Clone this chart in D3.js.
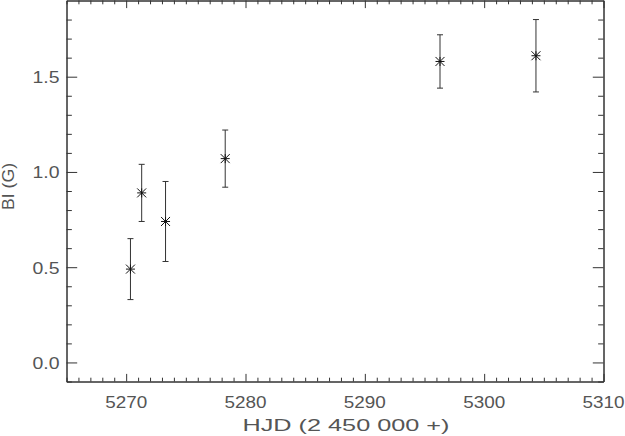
<!DOCTYPE html>
<html><head><meta charset="utf-8">
<script src="https://cdn.jsdelivr.net/npm/d3@7"></script>
<style>body{margin:0;background:#fff}svg{display:block}</style>
</head><body>
<script>
const hjd   = [5270.36, 5271.30, 5273.30, 5278.30, 5296.30, 5304.34];
const bl    = [0.49, 0.89, 0.74, 1.07, 1.58, 1.61];
const blErr = [0.16, 0.15, 0.21, 0.15, 0.14, 0.19];
const xTickLabels = ["5270", "5280", "5290", "5300", "5310"];
const yTickLabels = ["0.0", "0.5", "1.0", "1.5"];
const xTitle = "HJD (2 450 000 +)";
const yTitle = "BI (G)";

const W = 625, H = 436;
const svg = d3.select("body").append("svg").attr("width", W).attr("height", H);
const x = d3.scaleLinear().domain([5265, 5310]).range([66.5, 603.5]);
const y = d3.scaleLinear().domain([-0.1, 1.9]).range([381.5, 0.5]);

const ink = "#333";
const font = "Liberation Sans, Arial, sans-serif";
const xMajor = xTickLabels.map(Number);
const xMinor = d3.range(5265, 5311, 1).filter(v => !xMajor.includes(v));
const yMajor = yTickLabels.map(Number);
const yMinor = d3.range(-1, 19).map(i => i / 10).filter(v => !yMajor.some(m => Math.abs(m - v) < 1e-9));

function ax(gen, tx, ty) {
  const g = svg.append("g").attr("transform", `translate(${tx},${ty})`).call(gen);
  g.selectAll("text").remove();
  g.selectAll("line,path").attr("stroke", ink).attr("stroke-width", 1);
  return g;
}
const xl = 7.6, yl = 10.7;
ax(d3.axisBottom(x).tickValues(xMajor).tickSize(-xl).tickSizeOuter(0), 0, 381.5);
ax(d3.axisBottom(x).tickValues(xMinor).tickSize(-xl / 2).tickSizeOuter(0), 0, 381.5);
ax(d3.axisTop(x).tickValues(xMajor).tickSize(-xl).tickSizeOuter(0), 0, 0.5);
ax(d3.axisTop(x).tickValues(xMinor).tickSize(-xl / 2).tickSizeOuter(0), 0, 0.5);
ax(d3.axisLeft(y).tickValues(yMajor).tickSize(-yl).tickSizeOuter(0), 66.5, 0);
ax(d3.axisLeft(y).tickValues(yMinor).tickSize(-yl / 2).tickSizeOuter(0), 66.5, 0);
ax(d3.axisRight(y).tickValues(yMajor).tickSize(-yl).tickSizeOuter(0), 603.5, 0);
ax(d3.axisRight(y).tickValues(yMinor).tickSize(-yl / 2).tickSizeOuter(0), 603.5, 0);

const txt = "#555";
svg.append("g").selectAll("text").data(xTickLabels).join("text")
  .attr("x", d => x(+d) - 21).attr("y", 407.5)
  .attr("textLength", 42).attr("lengthAdjust", "spacingAndGlyphs")
  .attr("font-family", font).attr("font-size", 17).attr("fill", txt)
  .text(d => d);
svg.append("g").selectAll("text").data(yTickLabels).join("text")
  .attr("x", 32.5).attr("y", d => y(+d) + 6.3)
  .attr("textLength", 27).attr("lengthAdjust", "spacingAndGlyphs")
  .attr("font-family", font).attr("font-size", 17).attr("fill", txt)
  .text(d => d);
svg.append("text").attr("x", 242.5).attr("y", 431)
  .attr("textLength", 207).attr("lengthAdjust", "spacingAndGlyphs")
  .attr("font-family", font).attr("font-size", 16.5).attr("fill", txt)
  .text(xTitle);
svg.append("text").attr("transform", "translate(14,210) rotate(-90)")
  .attr("x", 0).attr("y", 0)
  .attr("textLength", 47).attr("lengthAdjust", "spacingAndGlyphs")
  .attr("font-family", font).attr("font-size", 16.5).attr("fill", txt)
  .text(yTitle);

const data = hjd.map((h, i) => ({h, v: bl[i], e: blErr[i]}));
const eb = svg.append("g").attr("stroke", ink).attr("stroke-width", 1).attr("fill", "none");
eb.selectAll("line.v").data(data).join("line").attr("class", "v")
  .attr("x1", d => x(d.h)).attr("x2", d => x(d.h))
  .attr("y1", d => y(d.v + d.e)).attr("y2", d => y(d.v - d.e));
eb.selectAll("line.t").data(data).join("line").attr("class", "t")
  .attr("x1", d => x(d.h) - 3).attr("x2", d => x(d.h) + 3)
  .attr("y1", d => y(d.v + d.e)).attr("y2", d => y(d.v + d.e));
eb.selectAll("line.b").data(data).join("line").attr("class", "b")
  .attr("x1", d => x(d.h) - 3).attr("x2", d => x(d.h) + 3)
  .attr("y1", d => y(d.v - d.e)).attr("y2", d => y(d.v - d.e));

const s = 4.5;
const star = `M${-s},0L${s},0M0,${-s}L0,${s}M${-s},${-s}L${s},${s}M${-s},${s}L${s},${-s}`;
svg.append("g").selectAll("path").data(data).join("path")
  .attr("transform", d => `translate(${x(d.h)},${y(d.v)})`)
  .attr("d", star).attr("stroke", "#111").attr("stroke-width", 1).attr("fill", "none");
</script>
</body></html>
